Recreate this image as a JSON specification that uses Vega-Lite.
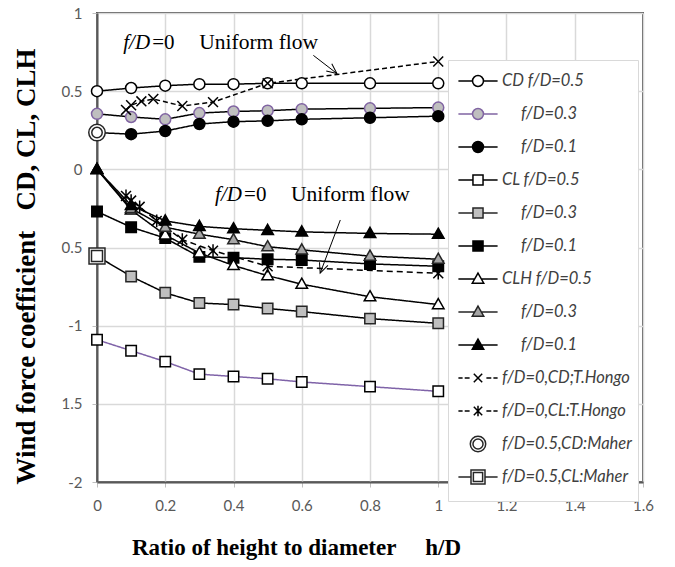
{
  "$schema": "https://vega.github.io/schema/vega-lite/v6.json",
  "width": 546,
  "height": 469,
  "autosize": {"type": "none"},
  "padding": {"left": 97, "top": 13, "right": 32, "bottom": 85},
  "background": "white",
  "config": {
    "view": {"stroke": "#595959", "strokeWidth": 2},
    "font": "Lato",
    "legend": {
      "orient": "none", "legendX": 351, "legendY": 47, "title": null,
      "symbolSize": 784, "symbolStrokeWidth": 1.5,
      "labelFont": "Lato", "labelFontSize": 16.5, "labelFontStyle": "italic", "labelColor": "#404040", "labelLimit": 300,
      "labelOffset": 9, "symbolOffset": 9, "padding": 6, "rowPadding": -6.9,
      "strokeColor": "#d9d9d9", "fillColor": "white"
    }
  },
  "datasets": {
    "series": [
      {"s": "CD05", "h": 0, "v": 0.5}, {"s": "CD05", "h": 0.1, "v": 0.52}, {"s": "CD05", "h": 0.2, "v": 0.535}, {"s": "CD05", "h": 0.3, "v": 0.545}, {"s": "CD05", "h": 0.4, "v": 0.545}, {"s": "CD05", "h": 0.5, "v": 0.55}, {"s": "CD05", "h": 0.6, "v": 0.55}, {"s": "CD05", "h": 0.8, "v": 0.55}, {"s": "CD05", "h": 1.0, "v": 0.55},
      {"s": "CD03", "h": 0, "v": 0.355}, {"s": "CD03", "h": 0.1, "v": 0.335}, {"s": "CD03", "h": 0.2, "v": 0.32}, {"s": "CD03", "h": 0.3, "v": 0.36}, {"s": "CD03", "h": 0.4, "v": 0.37}, {"s": "CD03", "h": 0.5, "v": 0.375}, {"s": "CD03", "h": 0.6, "v": 0.385}, {"s": "CD03", "h": 0.8, "v": 0.39}, {"s": "CD03", "h": 1.0, "v": 0.395},
      {"s": "CD01", "h": 0, "v": 0.235}, {"s": "CD01", "h": 0.1, "v": 0.225}, {"s": "CD01", "h": 0.2, "v": 0.245}, {"s": "CD01", "h": 0.3, "v": 0.29}, {"s": "CD01", "h": 0.4, "v": 0.305}, {"s": "CD01", "h": 0.5, "v": 0.31}, {"s": "CD01", "h": 0.6, "v": 0.32}, {"s": "CD01", "h": 0.8, "v": 0.33}, {"s": "CD01", "h": 1.0, "v": 0.34},
      {"s": "CL05", "h": 0, "v": -1.09}, {"s": "CL05", "h": 0.1, "v": -1.16}, {"s": "CL05", "h": 0.2, "v": -1.23}, {"s": "CL05", "h": 0.3, "v": -1.31}, {"s": "CL05", "h": 0.4, "v": -1.325}, {"s": "CL05", "h": 0.5, "v": -1.34}, {"s": "CL05", "h": 0.6, "v": -1.36}, {"s": "CL05", "h": 0.8, "v": -1.39}, {"s": "CL05", "h": 1.0, "v": -1.42},
      {"s": "CL03", "h": 0, "v": -0.555}, {"s": "CL03", "h": 0.1, "v": -0.685}, {"s": "CL03", "h": 0.2, "v": -0.79}, {"s": "CL03", "h": 0.3, "v": -0.855}, {"s": "CL03", "h": 0.4, "v": -0.865}, {"s": "CL03", "h": 0.5, "v": -0.89}, {"s": "CL03", "h": 0.6, "v": -0.91}, {"s": "CL03", "h": 0.8, "v": -0.955}, {"s": "CL03", "h": 1.0, "v": -0.985},
      {"s": "CL01", "h": 0, "v": -0.27}, {"s": "CL01", "h": 0.1, "v": -0.37}, {"s": "CL01", "h": 0.2, "v": -0.44}, {"s": "CL01", "h": 0.3, "v": -0.56}, {"s": "CL01", "h": 0.4, "v": -0.565}, {"s": "CL01", "h": 0.5, "v": -0.575}, {"s": "CL01", "h": 0.6, "v": -0.58}, {"s": "CL01", "h": 0.8, "v": -0.605}, {"s": "CL01", "h": 1.0, "v": -0.62},
      {"s": "CLH05", "h": 0, "v": 0}, {"s": "CLH05", "h": 0.1, "v": -0.26}, {"s": "CLH05", "h": 0.2, "v": -0.42}, {"s": "CLH05", "h": 0.3, "v": -0.535}, {"s": "CLH05", "h": 0.4, "v": -0.615}, {"s": "CLH05", "h": 0.5, "v": -0.68}, {"s": "CLH05", "h": 0.6, "v": -0.735}, {"s": "CLH05", "h": 0.8, "v": -0.815}, {"s": "CLH05", "h": 1.0, "v": -0.865},
      {"s": "CLH03", "h": 0, "v": 0}, {"s": "CLH03", "h": 0.1, "v": -0.25}, {"s": "CLH03", "h": 0.2, "v": -0.37}, {"s": "CLH03", "h": 0.3, "v": -0.415}, {"s": "CLH03", "h": 0.4, "v": -0.45}, {"s": "CLH03", "h": 0.5, "v": -0.495}, {"s": "CLH03", "h": 0.6, "v": -0.515}, {"s": "CLH03", "h": 0.8, "v": -0.555}, {"s": "CLH03", "h": 1.0, "v": -0.575},
      {"s": "CLH01", "h": 0, "v": 0}, {"s": "CLH01", "h": 0.1, "v": -0.23}, {"s": "CLH01", "h": 0.2, "v": -0.33}, {"s": "CLH01", "h": 0.3, "v": -0.365}, {"s": "CLH01", "h": 0.4, "v": -0.38}, {"s": "CLH01", "h": 0.5, "v": -0.39}, {"s": "CLH01", "h": 0.6, "v": -0.4}, {"s": "CLH01", "h": 0.8, "v": -0.41}, {"s": "CLH01", "h": 1.0, "v": -0.415},
      {"s": "HCD", "h": 0.085, "v": 0.38}, {"s": "HCD", "h": 0.1, "v": 0.41}, {"s": "HCD", "h": 0.13, "v": 0.435}, {"s": "HCD", "h": 0.165, "v": 0.45}, {"s": "HCD", "h": 0.25, "v": 0.405}, {"s": "HCD", "h": 0.34, "v": 0.43}, {"s": "HCD", "h": 0.5, "v": 0.55}, {"s": "HCD", "h": 1.0, "v": 0.69},
      {"s": "HCL", "h": 0.085, "v": -0.17}, {"s": "HCL", "h": 0.1, "v": -0.2}, {"s": "HCL", "h": 0.125, "v": -0.24}, {"s": "HCL", "h": 0.175, "v": -0.33}, {"s": "HCL", "h": 0.25, "v": -0.45}, {"s": "HCL", "h": 0.34, "v": -0.52}, {"s": "HCL", "h": 0.5, "v": -0.62}, {"s": "HCL", "h": 1.0, "v": -0.665},
      {"s": "MCD", "h": 0, "v": 0.235},
      {"s": "MCL", "h": 0, "v": -0.555}
    ],
    "ann": [{"h": 0.077, "v": 0.806}, {"h": 0.346, "v": -0.164}]
  },
  "layer": [
    {
      "data": {"name": "series"},
      "mark": {"type": "line"},
      "encoding": {
        "x": {
          "field": "h", "type": "quantitative",
          "scale": {"domain": [0, 1.6], "nice": false, "zero": false},
          "axis": {
            "values": [0, 0.1, 0.2, 0.3, 0.4, 0.5, 0.6, 0.7, 0.8, 0.9, 1, 1.1, 1.2, 1.3, 1.4, 1.5, 1.6],
            "format": "~g",
            "labelExpr": "round(datum.value*10)%2==0 ? datum.label : ''",
            "labelOverlap": false, "labelFlush": false,
            "grid": true, "gridColor": "#d9d9d9", "gridWidth": 1.5,
            "gridOpacity": {"condition": {"test": "round(datum.value*10)%2==1", "value": 0}, "value": 1},
            "tickSize": 5, "tickColor": "#bfbfbf", "tickWidth": 1,
            "domainColor": "#595959", "domainWidth": 2,
            "labelFont": "Lato", "labelFontSize": 15, "labelColor": "#595959", "labelPadding": 11,
            "title": "Ratio of height to diameter\u00a0\u00a0\u00a0\u00a0\u00a0h/D",
            "titleFont": "Liberation Serif", "titleFontSize": 23, "titleFontWeight": "bold", "titleColor": "black",
            "titleX": 199, "titleY": 65, "titleBaseline": "middle", "titleAlign": "center"
          }
        },
        "y": {
          "field": "v", "type": "quantitative",
          "scale": {"domain": [-2, 1], "nice": false, "zero": false},
          "axis": {
            "values": [-2, -1.5, -1, -0.5, 0, 0.5, 1],
            "format": "~g",
            "labelExpr": "datum.value == -0.5 ? '0.5' : datum.value == -1.5 ? '1.5' : datum.value == -1 ? '-1' : datum.value == -2 ? '-2' : datum.label",
            "labelOverlap": false, "labelFlush": false,
            "grid": true, "gridColor": "#d9d9d9", "gridWidth": 1.5,
            "tickSize": 5, "tickColor": "#bfbfbf", "tickWidth": 1,
            "domainColor": "#595959", "domainWidth": 2,
            "labelFont": "Lato", "labelFontSize": 15, "labelColor": "#595959", "labelPadding": 10,
            "title": "Wind force coefficient\u00a0\u00a0\u00a0CD, CL, CLH",
            "titleFont": "Liberation Serif", "titleFontSize": 27, "titleFontWeight": "bold", "titleColor": "black",
            "titleX": -71, "titleY": 253, "titleBaseline": "middle", "titleAlign": "center"
          }
        },
        "detail": {"field": "s"},
        "color": {
          "field": "s", "type": "nominal", "legend": null,
          "scale": {
            "domain": ["MCL", "MCD", "HCL", "HCD", "CLH01", "CLH03", "CLH05", "CL01", "CL03", "CL05", "CD01", "CD03", "CD05"],
            "range": ["#8ea9db", "#000000", "#000000", "#000000", "#000000", "#000000", "#000000", "#000000", "#000000", "#7f63a8", "#000000", "#000000", "#000000"]
          }
        },
        "strokeDash": {
          "field": "s", "type": "nominal", "legend": null,
          "scale": {
            "domain": ["MCL", "MCD", "HCL", "HCD", "CLH01", "CLH03", "CLH05", "CL01", "CL03", "CL05", "CD01", "CD03", "CD05"],
            "range": [[1, 0], [1, 0], [6, 4], [5, 3], [1, 0], [1, 0], [1, 0], [1, 0], [1, 0], [1, 0], [1, 0], [1, 0], [1, 0]]
          }
        },
        "strokeWidth": {
          "field": "s", "type": "nominal", "legend": null,
          "scale": {
            "domain": ["MCL", "MCD", "HCL", "HCD", "CLH01", "CLH03", "CLH05", "CL01", "CL03", "CL05", "CD01", "CD03", "CD05"],
            "range": [1.5, 1.5, 2.6, 1.5, 1.4, 1.4, 1.4, 1.6, 1.6, 1.6, 1.8, 1.8, 1.8]
          }
        }
      }
    },
    {
      "data": {"name": "series"},
      "mark": {"type": "point", "size": 121, "opacity": 1, "strokeWidth": 1.5},
      "encoding": {
        "x": {"field": "h", "type": "quantitative"},
        "y": {"field": "v", "type": "quantitative"},
        "fill": {
          "field": "s", "type": "nominal",
          "scale": {
            "domain": ["CD05", "CD03", "CD01", "CL05", "CL03", "CL01", "CLH05", "CLH03", "CLH01", "HCD", "HCL", "MCD", "MCL"],
            "range": ["#ffffff", "#bfbfbf", "#000000", "#ffffff", "#bfbfbf", "#000000", "#ffffff", "#a6a6a6", "#000000", "transparent", "transparent", "#ffffff", "#ffffff"]
          },
          "legend": {
            "labelExpr": "['CD f/D=0.5','\u200b\u2003\u2002f/D=0.3','\u200b\u2003\u2002f/D=0.1','CL f/D=0.5','\u200b\u2003\u2002f/D=0.3','\u200b\u2003\u2002f/D=0.1','CLH f/D=0.5','\u200b\u2003\u2002f/D=0.3','\u200b\u2003\u2002f/D=0.1','f/D=0,CD;T.Hongo','f/D=0,CL:T.Hongo','f/D=0.5,CD:Maher','f/D=0.5,CL:Maher'][indexof(['CD05','CD03','CD01','CL05','CL03','CL01','CLH05','CLH03','CLH01','HCD','HCL','MCD','MCL'], datum.value)]",
            "symbolType": {"expr": "(indexof(datum.value,'CLH')==0 ? 'M-1.4,0H-0.25M0.25,0H1.4M0,-0.42L0.41,0.3H-0.41Z' : indexof(datum.value,'CL')==0 ? 'M-1.4,0H-0.36M0.36,0H1.4M-0.36,-0.36H0.36V0.36H-0.36Z' : indexof(datum.value,'CD')==0 ? 'M-1.4,0H-0.39M0.39,0H1.4M0.39,0A0.39,0.39 0 1,1 -0.39,0A0.39,0.39 0 1,1 0.39,0Z' : datum.value=='HCD' ? 'M-1.4,0H-1.1M-0.95,0H-0.6M0.6,0H0.95M1.1,0H1.4M-0.3,-0.3L0.3,0.3M-0.3,0.3L0.3,-0.3' : datum.value=='HCL' ? 'M-1.4,0H-1.1M-0.95,0H-0.6M0.6,0H0.95M1.1,0H1.4M-0.3,-0.3L0.3,0.3M-0.3,0.3L0.3,-0.3M0,-0.38V0.38' : datum.value=='MCD' ? 'M0.55,0A0.55,0.55 0 1,1 -0.55,0A0.55,0.55 0 1,1 0.55,0ZM0.36,0A0.36,0.36 0 1,1 -0.36,0A0.36,0.36 0 1,1 0.36,0Z' : 'M-1.4,0H-0.5M0.5,0H1.4M-0.5,-0.5H0.5V0.5H-0.5ZM-0.33,-0.33H0.33V0.33H-0.33Z') + 'M0,-1.07h0.001M0,1.07h0.001'"},
            "encode": {
              "symbols": {
                "x": {"value": 22}
              },
              "labels": {
                "x": {"value": 46}
              }
            }
          }
        },
        "stroke": {
          "field": "s", "type": "nominal",
          "scale": {
            "domain": ["CD05", "CD03", "CD01", "CL05", "CL03", "CL01", "CLH05", "CLH03", "CLH01", "HCD", "HCL", "MCD", "MCL"],
            "range": ["#000000", "#8064a2", "#000000", "#000000", "#262626", "#000000", "#000000", "#262626", "#000000", "#000000", "#000000", "#262626", "#262626"]
          }
        },
        "shape": {
          "field": "s", "type": "nominal", "legend": null,
          "scale": {
            "domain": ["MCL", "MCD", "HCL", "HCD", "CLH01", "CLH03", "CLH05", "CL01", "CL03", "CL05", "CD01", "CD03", "CD05"],
            "range": [
              "M-1.45,-1.45H1.45V1.45H-1.45ZM-1,-1H1V1H-1Z",
              "M1.5,0A1.5,1.5 0 1,1 -1.5,0A1.5,1.5 0 1,1 1.5,0ZM0.95,0A0.95,0.95 0 1,1 -0.95,0A0.95,0.95 0 1,1 0.95,0Z",
              "M-0.9,-0.9L0.9,0.9M-0.9,0.9L0.9,-0.9M0,-1.15V1.15",
              "M-0.9,-0.9L0.9,0.9M-0.9,0.9L0.9,-0.9",
              "M0,-1.1L1.05,0.75H-1.05Z", "M0,-1.1L1.05,0.75H-1.05Z", "M0,-1.1L1.05,0.75H-1.05Z",
              "M-0.95,-0.95H0.95V0.95H-0.95Z", "M-0.95,-0.95H0.95V0.95H-0.95Z", "M-0.95,-0.95H0.95V0.95H-0.95Z",
              "M1,0A1,1 0 1,1 -1,0A1,1 0 1,1 1,0Z", "M1,0A1,1 0 1,1 -1,0A1,1 0 1,1 1,0Z", "M1,0A1,1 0 1,1 -1,0A1,1 0 1,1 1,0Z"
            ]
          }
        }
      }
    },
    {
      "data": {"name": "ann"},
      "mark": {"type": "text", "text": "f/D", "font": "Liberation Serif", "fontSize": 21, "fontStyle": "italic", "align": "left", "baseline": "middle"},
      "encoding": {
        "x": {"field": "h", "type": "quantitative"},
        "y": {"field": "v", "type": "quantitative"}
      }
    },
    {
      "data": {"name": "ann"},
      "mark": {"type": "text", "text": "=0", "font": "Liberation Serif", "fontSize": 21, "align": "left", "baseline": "middle", "dx": 29},
      "encoding": {
        "x": {"field": "h", "type": "quantitative"},
        "y": {"field": "v", "type": "quantitative"}
      }
    },
    {
      "data": {"name": "ann"},
      "mark": {"type": "text", "text": "Uniform flow", "font": "Liberation Serif", "fontSize": 21.5, "align": "left", "baseline": "middle", "dx": 76},
      "encoding": {
        "x": {"field": "h", "type": "quantitative"},
        "y": {"field": "v", "type": "quantitative"}
      }
    },
    {
      "data": {"values": [{"h1": 0.634, "v1": 0.729, "h2": 0.703, "v2": 0.613}, {"h1": 0.713, "v1": -0.324, "h2": 0.654, "v2": -0.664}]},
      "mark": {"type": "rule", "color": "#000000", "strokeWidth": 1},
      "encoding": {
        "x": {"field": "h1", "type": "quantitative"},
        "y": {"field": "v1", "type": "quantitative"},
        "x2": {"field": "h2"},
        "y2": {"field": "v2"}
      }
    },
    {
      "data": {"values": [{"h": 0.703, "v": 0.613}]},
      "mark": {"type": "point", "shape": "M-0.45,1L0,0L0.45,1", "size": 400, "angle": 128, "filled": false, "opacity": 1, "stroke": "#000000", "strokeWidth": 1, "fill": "transparent"},
      "encoding": {
        "x": {"field": "h", "type": "quantitative"},
        "y": {"field": "v", "type": "quantitative"}
      }
    },
    {
      "data": {"values": [{"h": 0.654, "v": -0.664}]},
      "mark": {"type": "point", "shape": "M-0.45,1L0,0L0.45,1", "size": 400, "angle": 200.6, "filled": false, "opacity": 1, "stroke": "#000000", "strokeWidth": 1, "fill": "transparent"},
      "encoding": {
        "x": {"field": "h", "type": "quantitative"},
        "y": {"field": "v", "type": "quantitative"}
      }
    }
  ]
}
